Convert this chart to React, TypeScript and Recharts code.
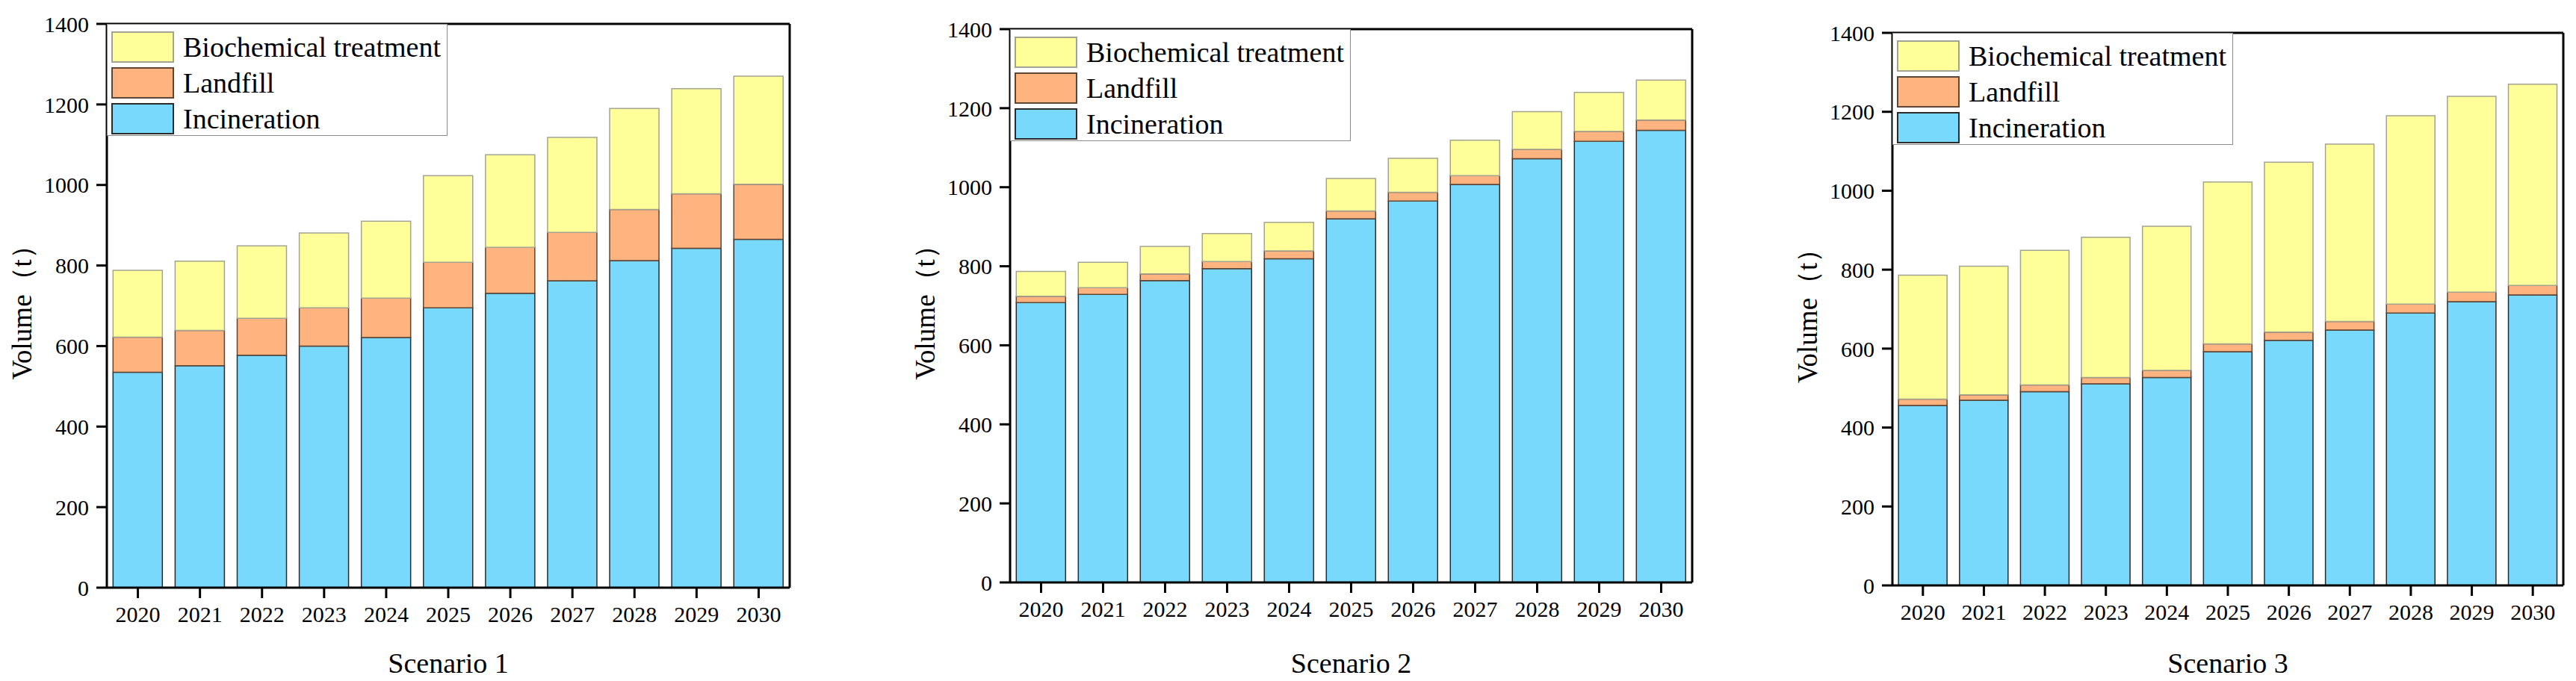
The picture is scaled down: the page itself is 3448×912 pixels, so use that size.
import { BarChart, Bar, XAxis, YAxis, Legend } from "recharts";

const years = ["2020", "2021", "2022", "2023", "2024", "2025", "2026", "2027", "2028", "2029", "2030"];
const yTicks = [0, 200, 400, 600, 800, 1000, 1200, 1400];

// Scenario 1
const incineration1 = [535, 551, 577, 600, 621, 695, 731, 762, 812, 843, 865];
const landfill1 = [87, 88, 92, 95, 98, 113, 114, 120, 127, 135, 137];
const biochemical1 = [166, 172, 180, 186, 191, 215, 230, 236, 251, 261, 268];

// Scenario 2
const incineration2 = [708, 729, 764, 794, 819, 920, 965, 1007, 1072, 1116, 1144];
const landfill2 = [16, 17, 17, 18, 20, 20, 22, 22, 24, 25, 26];
const biochemical2 = [63, 64, 69, 71, 72, 82, 86, 90, 95, 99, 101];

// Scenario 3
const incineration3 = [456, 469, 491, 511, 527, 592, 621, 647, 690, 719, 736];
const landfill3 = [16, 14, 17, 16, 18, 20, 21, 22, 23, 24, 24];
const biochemical3 = [314, 326, 341, 355, 365, 410, 430, 449, 477, 496, 510];

const SERIES = [
  { key: "incineration", name: "Incineration", fill: "#79D9FD", stroke: "#2b2b2b" },
  { key: "landfill", name: "Landfill", fill: "#FFB47F", stroke: "#5e4636" },
  { key: "biochemical", name: "Biochemical treatment", fill: "#FFFF99", stroke: "#a3a394" },
];

const buildRows = (inc: number[], land: number[], bio: number[]) =>
  years.map((year, i) => ({ year, incineration: inc[i], landfill: land[i], biochemical: bio[i] }));

const FONT = "'Liberation Serif', 'Times New Roman', serif";
const AXIS_W = 143;

const PANELS = [
  { title: "Scenario 1", rows: buildRows(incineration1, landfill1, biochemical1), left: 0, top: 32, plotWidth: 914, xAxisHeight: 125 },
  { title: "Scenario 2", rows: buildRows(incineration2, landfill2, biochemical2), left: 1209, top: 39, plotWidth: 913, xAxisHeight: 132 },
  { title: "Scenario 3", rows: buildRows(incineration3, landfill3, biochemical3), left: 2390, top: 44, plotWidth: 898, xAxisHeight: 128 },
];

// legend lists the top of the stack first
const LegendBox = () => (
  <div
    style={{
      width: 456,
      height: 150,
      boxSizing: "border-box",
      border: "1.5px solid #8c8c8c",
      background: "#fff",
      paddingTop: 6,
      paddingLeft: 5,
      fontFamily: FONT,
    }}
  >
    {[...SERIES].reverse().map((s) => (
      <div key={s.key} style={{ display: "flex", alignItems: "center", height: 48 }}>
        <div
          style={{
            width: 84,
            height: 42,
            boxSizing: "border-box",
            background: s.fill,
            border: `2px solid ${s.stroke}`,
            marginRight: 12,
            flexShrink: 0,
          }}
        />
        <span style={{ fontSize: 38, color: "#000", lineHeight: "42px", whiteSpace: "nowrap" }}>{s.name}</span>
      </div>
    ))}
  </div>
);

const YLabel = ({ viewBox }: any) => {
  const cx = viewBox.x + viewBox.width - 114;
  const cy = viewBox.y + viewBox.height / 2;
  return (
    <text
      x={cx}
      y={cy}
      transform={`rotate(-90, ${cx}, ${cy})`}
      textAnchor="middle"
      dominantBaseline="central"
      fontSize={37}
      fontFamily={FONT}
      fill="#000"
    >
      Volume（t）
    </text>
  );
};

const Panel = ({ panel }: { panel: (typeof PANELS)[number] }) => {
  const width = AXIS_W + panel.plotWidth + 12;
  return (
    <div style={{ position: "absolute", left: panel.left, top: 0 }}>
      <BarChart
        width={width}
        height={912}
        data={panel.rows}
        margin={{ top: panel.top - 1, right: 11, bottom: 0, left: 0 }}
        barCategoryGap="10%"
        style={{ fontFamily: FONT }}
      >
        <XAxis
          dataKey="year"
          height={panel.xAxisHeight}
          tickSize={14}
          tickMargin={11}
          tick={{ fontSize: 30, fill: "#000", fontFamily: FONT }}
          axisLine={{ stroke: "#000", strokeWidth: 3 }}
          tickLine={{ stroke: "#000", strokeWidth: 3 }}
          label={{ value: panel.title, position: "insideBottom", offset: 11, fontSize: 38, fill: "#000", fontFamily: FONT }}
        />
        <XAxis
          xAxisId="top"
          orientation="top"
          dataKey="year"
          height={1}
          tick={false}
          tickLine={false}
          axisLine={{ stroke: "#000", strokeWidth: 3 }}
        />
        <YAxis
          width={AXIS_W}
          domain={[0, 1400]}
          ticks={yTicks}
          tickSize={14}
          tickMargin={10}
          tick={{ fontSize: 30, fill: "#000", fontFamily: FONT }}
          axisLine={{ stroke: "#000", strokeWidth: 3 }}
          tickLine={{ stroke: "#000", strokeWidth: 3 }}
          label={<YLabel />}
        />
        <YAxis
          yAxisId="right"
          orientation="right"
          width={1}
          domain={[0, 1400]}
          tick={false}
          tickLine={false}
          axisLine={{ stroke: "#000", strokeWidth: 3 }}
        />
        <Legend
          layout="vertical"
          align="center"
          verticalAlign="middle"
          content={<LegendBox />}
          wrapperStyle={{ left: AXIS_W, top: panel.top, width: 456 }}
        />
        {SERIES.map((s) => (
          <Bar
            key={s.key}
            dataKey={s.key}
            name={s.name}
            stackId="a"
            fill={s.fill}
            stroke={s.stroke}
            strokeWidth={1.5}
            isAnimationActive={false}
          />
        ))}
      </BarChart>
    </div>
  );
};

export default function App() {
  return (
    <div style={{ position: "absolute", left: 0, top: 0, width: 3448, height: 912, background: "#fff" }}>
      {PANELS.map((p) => (
        <Panel key={p.title} panel={p} />
      ))}
    </div>
  );
}
